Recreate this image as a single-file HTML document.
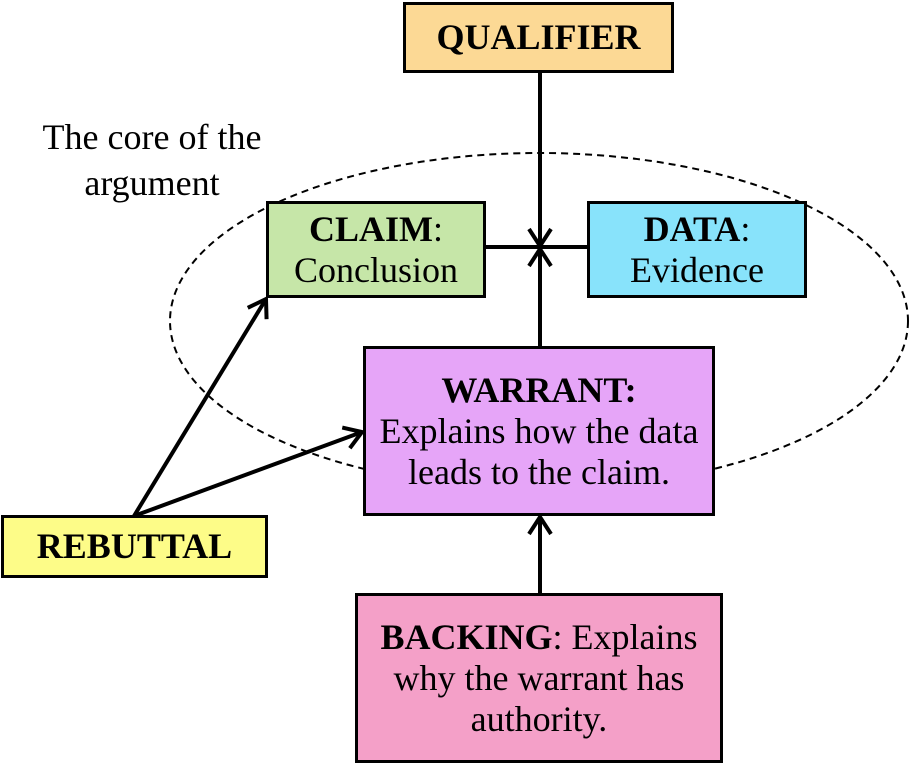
<!DOCTYPE html>
<html><head><style>
body{margin:0;width:909px;height:765px;background:#fff;overflow:hidden;position:relative;font-family:"Liberation Serif",serif;color:#000}
.b{position:absolute;box-sizing:border-box;border:3px solid #000;display:flex;align-items:center;justify-content:center;text-align:center;font-size:36px;line-height:41px;white-space:nowrap}
svg{position:absolute;left:0;top:0}
</style></head><body>
<svg width="909" height="765">
<defs><marker id="a" markerWidth="22" markerHeight="26" refX="19" refY="13" orient="auto" markerUnits="userSpaceOnUse"><path d="M2,2 L19,13 L2,24" fill="none" stroke="#000" stroke-width="4"/></marker></defs>
<ellipse cx="539" cy="321" rx="369" ry="168" fill="none" stroke="#000" stroke-width="2" stroke-dasharray="7,5"/>
<g stroke="#000" stroke-width="4" fill="none">
<line x1="485" y1="247" x2="588" y2="247"/>
<line x1="540" y1="72" x2="540" y2="246" marker-end="url(#a)"/>
<line x1="540" y1="347" x2="540" y2="249" marker-end="url(#a)"/>
<line x1="540" y1="594" x2="540" y2="517" marker-end="url(#a)"/>
<line x1="134" y1="516" x2="266" y2="299" marker-end="url(#a)"/>
<line x1="134" y1="516" x2="362" y2="432" marker-end="url(#a)"/>
</g>
</svg>
<div style="position:absolute;left:20px;top:114px;width:264px;font-size:36px;line-height:46px;text-align:center">The core of the<br>argument</div>
<div class="b" style="left:403px;top:2px;width:271px;height:71px;background:#fcd995;font-weight:bold">QUALIFIER</div>
<div class="b" style="left:266px;top:201px;width:220px;height:97px;background:#c6e6a8"><div><b>CLAIM</b>:<br>Conclusion</div></div>
<div class="b" style="left:587px;top:201px;width:220px;height:97px;background:#88e3fb"><div><b>DATA</b>:<br>Evidence</div></div>
<div class="b" style="left:363px;top:346px;width:352px;height:170px;background:#e6a5f8"><div><b>WARRANT:</b><br>Explains how the data<br>leads to the claim.</div></div>
<div class="b" style="left:1px;top:515px;width:267px;height:63px;background:#fdfc88;font-weight:bold">REBUTTAL</div>
<div class="b" style="left:355px;top:593px;width:368px;height:170px;background:#f4a0c8"><div><b>BACKING</b>: Explains<br>why the warrant has<br>authority.</div></div>
</body></html>
